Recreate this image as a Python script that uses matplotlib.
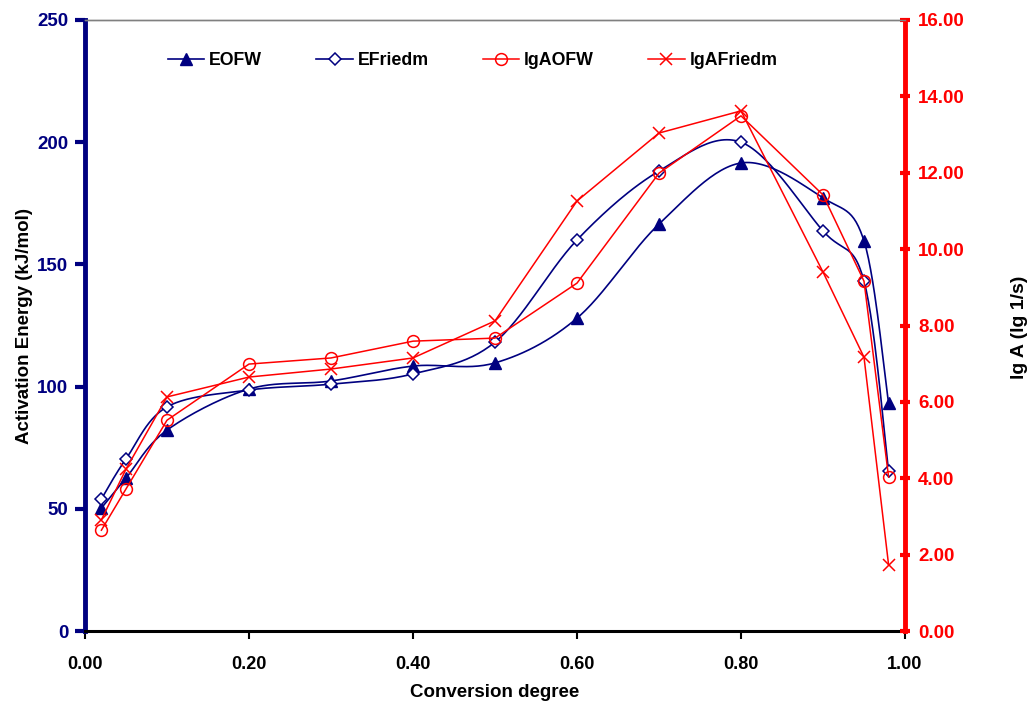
import numpy as np
import matplotlib
matplotlib.use('Agg')
import matplotlib.pyplot as plt

plt.rcParams['font.family'] = ['Liberation Sans', 'DejaVu Sans']
plt.rcParams['font.weight'] = 'bold'

# data
alpha = [0.02, 0.05, 0.10, 0.20, 0.30, 0.40, 0.50, 0.60, 0.70, 0.80, 0.90, 0.95, 0.98]
e_ofw = [50.3, 62.6, 82.2, 99.0, 102.3, 108.4, 109.7, 128.0, 166.5, 191.5, 177.2, 159.6, 93.3]
e_friedm = [54.0, 70.4, 91.7, 98.6, 101.0, 105.2, 118.2, 160.0, 188.2, 200.0, 163.7, 143.2, 65.5]
lga_ofw = [2.64, 3.72, 5.52, 6.99, 7.15, 7.59, 7.67, 9.11, 11.99, 13.49, 11.42, 9.16, 4.03]
lga_friedm = [2.91, 4.24, 6.13, 6.65, 6.86, 7.15, 8.12, 11.26, 13.04, 13.62, 9.40, 7.17, 1.73]

navy = '#000080'
red = '#FF0000'


# smooth line through the points (like excel's smoothed line), done in screen-ish units
def smooth(x, y, ysc, n=30):
    p = np.column_stack([np.asarray(x, float), np.asarray(y, float) * ysc])
    p = np.vstack([p[0], p, p[-1]])
    out = []
    for i in range(1, len(p) - 2):
        p0, p1, p2, p3 = p[i - 1], p[i], p[i + 1], p[i + 2]
        c1 = p1 + (p2 - p0) / 6.0
        c2 = p2 - (p3 - p1) / 6.0
        t = np.linspace(0, 1, n)[:, None]
        seg = (1 - t) ** 3 * p1 + 3 * (1 - t) ** 2 * t * c1 + 3 * (1 - t) * t ** 2 * c2 + t ** 3 * p2
        out.append(seg)
    out = np.vstack(out)
    return out[:, 0], out[:, 1] / ysc


fig = plt.figure(figsize=(10.31, 7.03), dpi=100)
ax = fig.add_axes([85 / 1031, 72 / 703, 820 / 1031, 611 / 703])
ax2 = ax.twinx()

ysc = (611 / 250) / 820
sx, sy = smooth(alpha, e_ofw, ysc)
ax.plot(sx, sy, color=navy, lw=1.2)
ax.plot(alpha, e_ofw, ls='none', marker='^', ms=8, color=navy)
sx, sy = smooth(alpha, e_friedm, ysc)
ax.plot(sx, sy, color=navy, lw=1.2)
ax.plot(alpha, e_friedm, ls='none', marker='D', ms=6, mfc='white', mec=navy, mew=1.1)

ax2.plot(alpha, lga_ofw, color=red, lw=1.1, marker='o', ms=8.5, mfc='none', mec=red, mew=1.1)
ax2.plot(alpha, lga_friedm, color=red, lw=1.1, marker='x', ms=9, mec=red, mew=1.1)

# legend handles
h1, = ax.plot([], [], color=navy, lw=1.2, marker='^', ms=8)
h2, = ax.plot([], [], color=navy, lw=1.2, marker='D', ms=6, mfc='white', mec=navy, mew=1.1)
h3, = ax.plot([], [], color=red, lw=1.1, marker='o', ms=8.5, mfc='none', mec=red, mew=1.1)
h4, = ax.plot([], [], color=red, lw=1.1, marker='x', ms=9, mec=red, mew=1.1)
ax2.legend([h1, h2, h3, h4], ['EOFW', 'EFriedm', 'lgAOFW', 'lgAFriedm'], ncol=4, frameon=False,
           loc='center left', bbox_to_anchor=(0.101, 0.934), prop={'size': 12.8, 'weight': 'bold'},
           handlelength=2.05, columnspacing=3.05, handletextpad=0.27, borderaxespad=0, borderpad=0)

ax.set_xlim(0, 1)
ax.set_ylim(0, 250)
ax2.set_ylim(0, 16)
ax.set_xticks(np.arange(0, 1.01, 0.2))
ax.set_xticklabels(['%.2f' % v for v in np.arange(0, 1.01, 0.2)])
ax.set_yticks(range(0, 251, 50))
ax2.set_yticks(range(0, 17, 2))
ax2.set_yticklabels(['%.2f' % v for v in range(0, 17, 2)])

ax.spines['left'].set_color(navy)
ax.spines['left'].set_linewidth(3.5)
ax.spines['bottom'].set_color('black')
ax.spines['bottom'].set_linewidth(2.2)
ax.spines['top'].set_color('#808080')
ax.spines['top'].set_linewidth(1)
ax.spines['right'].set_visible(False)
ax2.spines['right'].set_color(red)
ax2.spines['right'].set_linewidth(3.5)
ax2.spines['left'].set_visible(False)
ax2.spines['bottom'].set_visible(False)
ax2.spines['top'].set_color('#808080')
ax2.spines['top'].set_linewidth(1)

ax.tick_params(axis='y', colors=navy, labelsize=13.5, width=3, length=7, direction='out', pad=5)
ax.tick_params(axis='x', colors='black', labelsize=13, width=1.5, length=6, direction='out', pad=12)
ax2.tick_params(axis='y', colors=red, labelsize=13.5, width=3, length=7, direction='inout', pad=6)
for lab in ax.get_yticklabels() + ax.get_xticklabels() + ax2.get_yticklabels():
    lab.set_fontweight('bold')

ax.set_xlabel('Conversion degree', fontsize=13.5, fontweight='bold', labelpad=8)
ax.set_ylabel('Activation Energy (kJ/mol)', fontsize=13.5, fontweight='bold', labelpad=3)
# right axis title sits near the figure edge
fig.text(1019 / 1031, 1 - 327 / 703, 'lg A (lg 1/s)', rotation=90, ha='center', va='center',
         fontsize=14, fontweight='bold')

fig.savefig('out.png', dpi=100)
